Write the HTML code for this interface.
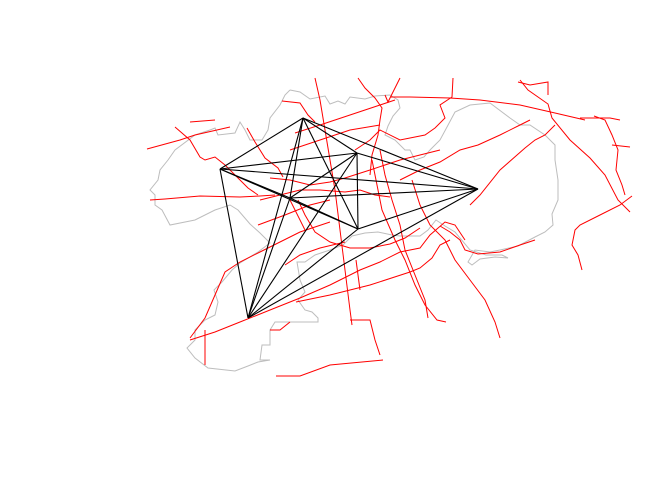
<!DOCTYPE html>
<html><head><meta charset="utf-8"><style>body{margin:0;background:#fff}svg{display:block}</style></head>
<body>
<svg id="chart" width="672" height="480" xmlns="http://www.w3.org/2000/svg">
<g id="boundary" fill="none" stroke="#bdbdbd" stroke-width="1">
<polyline points="290,90 300,92 310,99 325,96 330,104 338,101 345,104 350,97 365,99 375,96 390,95 398,100 400,108 393,116 388,126 385,135 395,140 405,150 410,150 415,160 424,157 430,150 440,140 447,127 455,112 470,105 490,103 510,118 520,125 530,125 545,135 555,145 555,160 558,180 558,200 552,214 553,225 545,232 535,237 518,246 500,250 490,252 475,250 468,262 472,265 480,259 495,257 508,258 502,255 486,255 470,250 455,232 445,226 436,220 428,230 420,236 410,236 400,236 392,235 378,232 365,233 352,236 343,245 330,250 315,255 305,262 297,262 300,280 305,292 298,300 305,310 312,312 318,318 318,322 300,322 275,322 270,330 270,345 262,345 260,360 270,360 258,362 248,366 235,371 208,368 195,358 187,348 195,340 195,330 205,320 215,315 218,302 214,290 222,282 232,270 240,263 258,252 270,243 260,233 250,224 238,210 230,205 215,210 195,220 170,225 162,210 155,205 155,195 150,190 158,180 160,170 168,160 175,150 195,135 210,130 215,128 218,135 235,133 240,122 245,130 250,140 262,140 268,130 270,118 280,105 285,95 290,90"/>
</g>
<g id="roads" fill="none" stroke="#ff0000" stroke-width="1"></g>
<g id="edges" fill="none" stroke="#000" stroke-width="1.1"></g>
</svg>
<script>
const nodeNames = ["n1","n2","n3","n4","n5","n6","n7"];
const nodeX = [303,220,357,478,358,248,290];
const nodeY = [118,169,153,189,229,318,198];
const roads = [
[[147,149],[180,140],[195,135],[230,127]],
[[190,122],[215,120]],
[[175,127],[190,140],[200,157],[205,160],[215,157],[225,165],[235,175],[248,188],[258,195]],
[[150,200],[165,199],[200,196],[240,197],[260,196],[275,195]],
[[247,128],[255,142],[265,158],[278,168],[283,177]],
[[282,101],[300,103],[308,115],[315,122]],
[[315,78],[320,100],[325,130],[330,160],[335,190],[340,230],[345,270],[350,310],[352,325]],
[[358,78],[365,88],[375,98],[382,108],[380,120],[378,135],[372,155],[370,175]],
[[400,78],[393,92],[388,102],[385,95]],
[[390,97],[410,97],[450,98],[480,100],[520,105],[555,113],[585,120]],
[[453,78],[452,97],[440,105],[445,118],[435,128],[425,135],[400,140],[380,130],[370,140],[355,150]],
[[520,80],[528,90],[538,97],[548,104],[552,118],[570,140],[590,158],[605,175],[618,200],[630,212]],
[[518,82],[530,85],[548,82],[548,95]],
[[580,118],[610,118],[620,120]],
[[594,116],[605,120],[612,135],[618,150],[616,170],[622,185],[625,195]],
[[612,145],[630,147]],
[[632,196],[620,205],[600,215],[580,225],[575,230],[572,245],[578,255],[582,270]],
[[470,205],[480,195],[500,170],[525,148],[535,140],[545,135],[555,125]],
[[400,180],[420,170],[440,162],[460,150],[478,145],[500,135],[520,125],[530,120]],
[[295,133],[320,125],[350,115],[380,105],[395,100]],
[[290,150],[320,140],[350,130],[380,125]],
[[260,200],[280,195],[300,190],[320,190],[345,192],[360,190],[375,195],[390,197]],
[[270,178],[290,180],[310,185],[330,182],[345,178],[370,170],[400,160],[440,150]],
[[258,225],[285,215],[310,205],[330,200]],
[[190,338],[205,318],[215,295],[225,272],[240,262],[260,252],[280,242],[300,232],[330,222]],
[[190,340],[215,332],[240,322],[270,310],[300,298],[330,285],[360,270],[380,262],[400,252],[420,248],[430,235],[445,222],[455,225],[465,240]],
[[285,265],[300,255],[320,248],[345,242]],
[[296,302],[330,295],[370,285],[410,272],[420,268],[432,258],[440,245],[450,240]],
[[205,330],[205,365]],
[[270,330],[280,330],[290,322]],
[[298,200],[305,215],[315,232],[330,242],[350,248],[370,248],[390,244],[405,238],[420,228]],
[[380,150],[385,175],[392,200],[400,225],[405,250],[415,275],[425,300],[428,318]],
[[372,160],[378,190],[382,210],[395,240],[405,260],[415,285],[425,305],[437,320],[446,322]],
[[412,180],[420,205],[430,225],[445,240],[455,260],[470,280],[485,300],[495,322],[500,338]],
[[440,226],[450,232],[460,240],[465,250],[478,254],[500,252],[520,245],[535,240]],
[[350,320],[370,320],[375,340],[380,355]],
[[276,376],[300,376],[330,365],[383,360]],
[[356,260],[360,290]],
[[290,200],[295,210],[300,220],[305,230]]
];
const NS="http://www.w3.org/2000/svg";
const rg=document.getElementById('roads');
roads.forEach((r,i)=>{
  const p=document.createElementNS(NS,'polyline');
  p.setAttribute('points',r.map(q=>q.join(',')).join(' '));
  
  
  rg.appendChild(p);
});
const eg=document.getElementById('edges');
for(let i=0;i<nodeX.length;i++)for(let j=i+1;j<nodeX.length;j++){
  const l=document.createElementNS(NS,'line');
  l.setAttribute('x1',nodeX[i]);l.setAttribute('y1',nodeY[i]);
  l.setAttribute('x2',nodeX[j]);l.setAttribute('y2',nodeY[j]);
  
  
  eg.appendChild(l);
}
</script>
</body></html>
